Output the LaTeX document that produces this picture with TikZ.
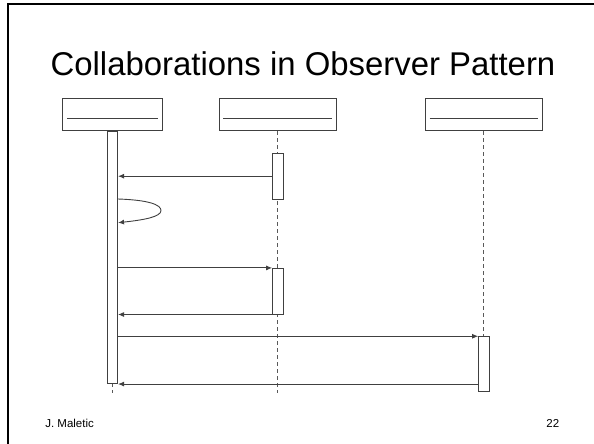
\documentclass[tikz,border=0pt]{standalone}
\usepackage{fontspec}
\setmainfont{Liberation Sans}
\usetikzlibrary{arrows.meta}

\begin{document}
\begin{tikzpicture}[x=1pt,y=-1pt,
  objbox/.style={draw=black!75,line width=0.9pt,minimum height=32.4pt,inner sep=0pt,fill=white},
  actbar/.style={draw=black!75,line width=0.9pt,minimum width=10.4pt,inner sep=0pt,fill=white},
  lifeline/.style={draw=black!65,line width=0.9pt,dash pattern=on 4pt off 3pt},
  msg/.style={draw=black!75,line width=0.9pt,-{Latex[length=6pt,width=5pt]}}]
\useasboundingbox (0,0) rectangle (594,444);
\draw[line width=2.6pt] (8,444) -- (8,4) -- (594,4);
\node[anchor=base] (title) at (303,75) {\fontsize{32.9}{40}\selectfont Collaborations in Observer Pattern};
\node[objbox,minimum width=99.3pt] (subj) at (112.4,114.5) {};
\node[objbox,minimum width=116.7pt] (obsA) at (277.6,114.5) {};
\node[objbox,minimum width=116.3pt] (obsB) at (483.8,114.5) {};
\draw[black!75,line width=0.9pt] ([xshift=4.5pt,yshift=-3.8pt]subj.west) -- ([xshift=-4.5pt,yshift=-3.8pt]subj.east);
\draw[black!75,line width=0.9pt] ([xshift=4.5pt,yshift=-3.8pt]obsA.west) -- ([xshift=-4.5pt,yshift=-3.8pt]obsA.east);
\draw[black!75,line width=0.9pt] ([xshift=4.5pt,yshift=-3.8pt]obsB.west) -- ([xshift=-4.5pt,yshift=-3.8pt]obsB.east);
\coordinate (endS) at (112.4,393);
\coordinate (endA) at (277.6,393);
\draw[lifeline] (subj.south) -- (endS);
\draw[lifeline] (obsA.south) -- (endA);
\node[actbar,minimum height=252pt,anchor=north] (actS) at (subj.south) {};
\node[actbar,minimum height=45.7pt] (actA1) at (277.8,176.2) {};
\node[actbar,minimum height=45.7pt] (actA2) at (277.8,291.2) {};
\node[actbar,minimum height=55pt] (actB) at (483.8,364.2) {};
\draw[lifeline] (obsB.south) -- (actB.north);
\coordinate (selfout) at (actS.east |- 0,199);
\coordinate (selftip) at (161,210.5);
\coordinate (selfin) at (actS.east |- 0,222.7);
\draw[msg] (actA1.west) -- (actA1.west -| actS.east);
\draw[msg] (selfout) .. controls +(30,1) and +(0,-6) .. (selftip) .. controls +(0,6) and +(28,-3) .. (selfin);
\draw[msg] (actS.east |- actA2.north) -- (actA2.north west);
\draw[msg] (actA2.south west) -- (actA2.south west -| actS.east);
\draw[msg] (actS.east |- actB.north) -- (actB.north west);
\draw[msg] (actB.west |- actS.south) -- (actS.south east);
\node[anchor=base west] (author) at (41.8,427) {\fontsize{11.5}{14}\selectfont J. Maletic};
\node[anchor=base east] (page) at (562.7,427) {\fontsize{11.5}{14}\selectfont 22};
\end{tikzpicture}
\end{document}
